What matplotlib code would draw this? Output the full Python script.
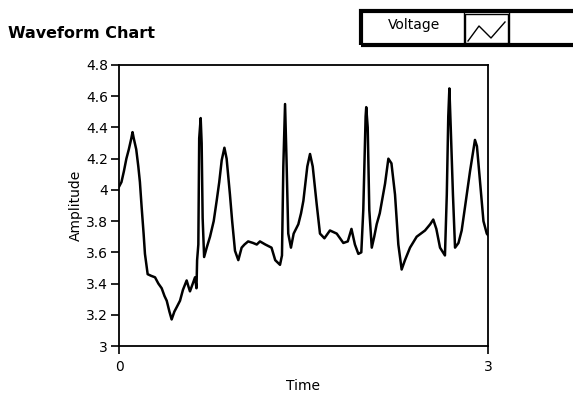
import matplotlib
matplotlib.use("Agg")
import matplotlib.pyplot as plt
from matplotlib.patches import Rectangle
from matplotlib.lines import Line2D

# waveform
time = [0.00, 0.02, 0.04, 0.06, 0.08, 0.10, 0.11, 0.12, 0.14, 0.157, 0.17, 0.184,
        0.20, 0.211, 0.233, 0.26, 0.293, 0.32, 0.347, 0.37, 0.388, 0.41, 0.428,
        0.45, 0.47, 0.496, 0.52, 0.55, 0.565, 0.577, 0.60, 0.618, 0.63, 0.635,
        0.645, 0.652, 0.664, 0.672, 0.68, 0.692, 0.713, 0.74, 0.77, 0.794, 0.815,
        0.835, 0.857, 0.875, 0.902, 0.92, 0.943, 0.97, 0.997, 1.02, 1.05, 1.09,
        1.12, 1.146, 1.19, 1.24, 1.27, 1.309, 1.325, 1.336, 1.35, 1.362, 1.376,
        1.398, 1.42, 1.458, 1.48, 1.499, 1.531, 1.553, 1.575, 1.607, 1.634, 1.67,
        1.715, 1.77, 1.824, 1.86, 1.89, 1.918, 1.946, 1.97, 1.986, 2.005, 2.01,
        2.022, 2.035, 2.055, 2.075, 2.095, 2.12, 2.163, 2.19, 2.215, 2.244, 2.271,
        2.298, 2.325, 2.366, 2.42, 2.488, 2.53, 2.555, 2.58, 2.61, 2.65, 2.665,
        2.677, 2.686, 2.697, 2.715, 2.732, 2.76, 2.786, 2.813, 2.854, 2.894, 2.91,
        2.93, 2.963, 2.99, 3.0]
voltage = [4.02, 4.05, 4.12, 4.20, 4.26, 4.33, 4.37, 4.33, 4.26, 4.15, 4.05, 3.89,
           3.72, 3.59, 3.46, 3.45, 3.44, 3.40, 3.37, 3.32, 3.29, 3.22, 3.17,
           3.22, 3.25, 3.29, 3.36, 3.42, 3.38, 3.35, 3.40, 3.44, 3.37, 3.55,
           3.65, 4.33, 4.46, 4.30, 3.82, 3.57, 3.63, 3.70, 3.80, 3.93, 4.05,
           4.19, 4.27, 4.20, 3.97, 3.80, 3.61, 3.55, 3.63, 3.65, 3.67, 3.66,
           3.65, 3.67, 3.65, 3.63, 3.55, 3.52, 3.58, 4.15, 4.55, 4.19, 3.72,
           3.63, 3.72, 3.78, 3.85, 3.93, 4.15, 4.23, 4.15, 3.91, 3.72, 3.69,
           3.74, 3.72, 3.66, 3.67, 3.75, 3.65, 3.59, 3.60, 3.87, 4.47, 4.53,
           4.40, 3.87, 3.63, 3.70, 3.78, 3.85, 4.04, 4.20, 4.17, 3.97, 3.65,
           3.49, 3.55, 3.63, 3.70, 3.74, 3.78, 3.81, 3.75, 3.63, 3.58, 3.97,
           4.47, 4.65, 4.40, 3.97, 3.63, 3.66, 3.74, 3.89, 4.12, 4.32, 4.28,
           4.10, 3.80, 3.72, 3.71]

y_ticks = [3.0, 3.2, 3.4, 3.6, 3.8, 4.0, 4.2, 4.4, 4.6, 4.8]
y_labels = ["3", "3.2", "3.4", "3.6", "3.8", "4", "4.2", "4.4", "4.6", "4.8"]
x_ticks = [0, 3]
x_labels = ["0", "3"]

W, H = 573, 403
fig = plt.figure(figsize=(W / 100, H / 100), dpi=100)
ax = fig.add_axes([119 / W, 1 - 346 / H, (488 - 119) / W, (346 - 65) / H])

ax.plot(time, voltage, color="black", lw=1.8)
ax.set_xlim(0, 3)
ax.set_ylim(3, 4.8)
ax.set_yticks(y_ticks)
ax.set_yticklabels(y_labels)
ax.set_xticks(x_ticks)
ax.set_xticklabels(x_labels)
ax.tick_params(axis="both", direction="out", length=6, width=1.2,
               labelsize=10, colors="black", pad=2)
ax.tick_params(axis="x", pad=4)
for s in ax.spines.values():
    s.set_linewidth(1.3)
ax.set_ylabel("Amplitude", fontsize=10, labelpad=2)
ax.set_xlabel("Time", fontsize=10, labelpad=4)

fig.text(8 / W, 1 - 33 / H, "Waveform Chart", fontsize=11.5, fontweight="heavy",
         va="center", ha="left")

# legend box like the LabVIEW plot legend
def fx(x):
    return x / W

def fy(y):
    return 1 - y / H

fig.add_artist(Rectangle((fx(361), fy(45)), fx(620) - fx(361), fy(11) - fy(45),
                         transform=fig.transFigure, fill=False, lw=3, ec="black"))
fig.add_artist(Line2D([fx(464), fx(464)], [fy(12), fy(44)], transform=fig.transFigure,
                      color="black", lw=1))
fig.add_artist(Rectangle((fx(465), fy(43)), fx(508) - fx(465), fy(14) - fy(43),
                         transform=fig.transFigure, fill=True, fc="white", lw=1, ec="black"))
fig.add_artist(Line2D([fx(509), fx(509)], [fy(12), fy(44)], transform=fig.transFigure,
                      color="black", lw=1))
fig.add_artist(Line2D([fx(468), fx(479), fx(491), fx(505)],
                      [fy(41), fy(26), fy(38), fy(22)], transform=fig.transFigure,
                      color="black", lw=1))
fig.text(fx(414), fy(25), "Voltage", fontsize=10, ha="center", va="center")

fig.savefig("out.png", dpi=100)
